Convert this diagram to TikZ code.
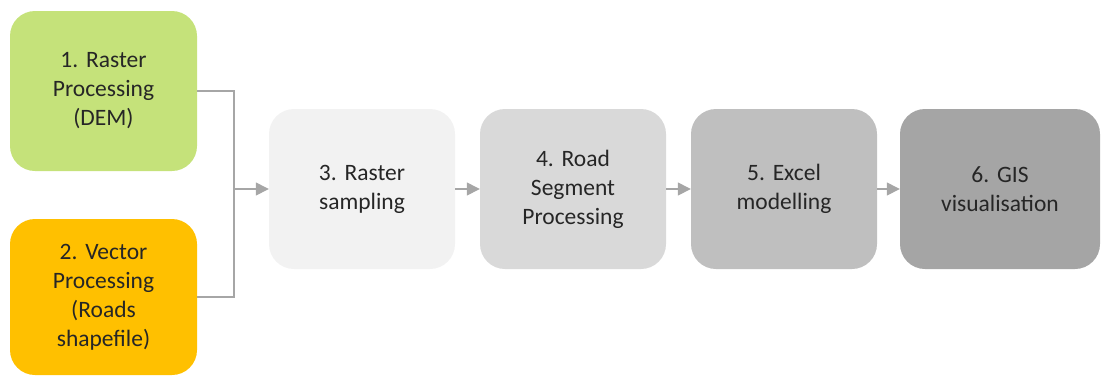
\documentclass[tikz,border=0pt]{standalone}
\usepackage{fontspec}
\setmainfont{Carlito}
\frenchspacing
\usetikzlibrary{arrows.meta}
\definecolor{boxgreen}{HTML}{C5E27A}
\definecolor{boxorange}{HTML}{FFC000}
\definecolor{gA}{HTML}{F2F2F2}
\definecolor{gB}{HTML}{D9D9D9}
\definecolor{gC}{HTML}{BFBFBF}
\definecolor{gD}{HTML}{A5A5A5}
\definecolor{linegray}{HTML}{A6A6A6}
\definecolor{txt}{HTML}{262626}
\tikzset{
  procbox/.style={draw=none, rounded corners=25pt, minimum width=187pt, minimum height=160pt,
    text width=170pt, align=center, inner sep=0pt, text=txt,
    font=\fontsize{23.5}{29}\selectfont},
  conn/.style={draw=linegray, line width=1.4pt},
  flow/.style={conn, -{Triangle[length=13pt,width=13pt]}}
}
\begin{document}
\begin{tikzpicture}[x=1pt,y=-1pt]
\useasboundingbox (0,0) rectangle (1102,376);
\node[procbox, fill=boxgreen] (b1) at (103.5,91) {1. Raster\\Processing\\(DEM)};
\node[procbox, fill=boxorange, minimum height=156pt] (b2) at (103.5,297) {2. Vector\\Processing\\(Roads\\shapefile)};
\node[procbox, fill=gA, minimum width=186pt] (b3) at (362,189) {3. Raster\\sampling};
\node[procbox, fill=gB, minimum width=186pt] (b4) at (573,189) {4. Road\\Segment\\Processing};
\node[procbox, fill=gC, minimum width=186pt] (b5) at (784,189) {5. Excel\\modelling};
\node[procbox, fill=gD, minimum width=200pt] (b6) at (1000,189) {6. GIS\\visualisation};
\coordinate (j) at (234,189);
\draw[conn] (b1.east) -| (j);
\draw[conn] (b2.east) -| (j);
\draw[flow] (j) -- (b3.west);
\draw[flow] (b3.east) -- (b4.west);
\draw[flow] (b4.east) -- (b5.west);
\draw[flow] (b5.east) -- (b6.west);
\end{tikzpicture}
\end{document}
